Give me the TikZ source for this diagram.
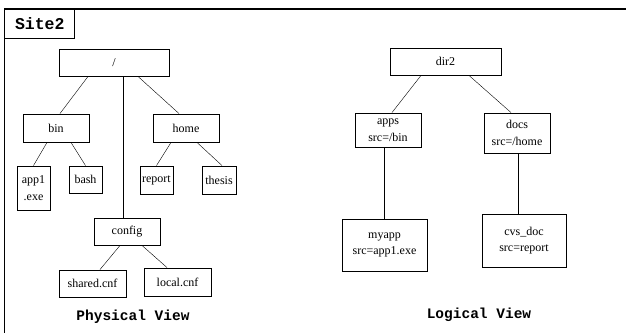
\documentclass[tikz,border=0pt]{standalone}
\usepackage{fontspec}
\setmainfont{Liberation Serif}
\setmonofont{Liberation Mono}
\usepackage{xcolor}
\usepackage{tikz}

\begin{document}
\begin{tikzpicture}[x=1pt,y=-1pt]
      % Definición de estilos
      \tikzstyle{dir}=[draw, line width=0.9pt, inner sep=0pt, align=center, font=\fontsize{12}{16.5}\selectfont]
      \tikzstyle{titulo}=[font=\fontsize{14.5}{16}\selectfont\ttfamily\bfseries]
      \useasboundingbox (0,0) rectangle (626,332);

      % Marco
      \draw[line width=1.3pt] (4.3,340) -- (4.3,9) -- (640,9);
      \node[draw, line width=1pt, anchor=north west, minimum width=70pt, minimum height=29pt,
            font=\fontsize{16.5}{18}\selectfont\ttfamily\bfseries] (sitio) at (4.3,9) {Site2};

      % Vista física
      \node[dir, minimum width=110pt, minimum height=27pt] (raiz) at (114,62.5) {/};
      \node[dir, minimum width=66pt, minimum height=28pt] (bin) at (56,128) {bin};
      \node[dir, minimum width=66pt, minimum height=28pt] (home) at (186,128) {home};
      \node[dir, minimum width=33pt, minimum height=44pt] (app) at (33.5,188) {app1\\.exe};
      \node[dir, minimum width=33pt, minimum height=27pt] (bash) at (85.5,179.5) {bash};
      \node[dir, minimum width=33pt, minimum height=28pt] (report) at (156.5,180) {report};
      \node[dir, minimum width=34pt, minimum height=28pt] (thesis) at (219,180) {thesis};
      \node[dir, minimum width=66pt, minimum height=27pt] (config) at (127,231.5) {config};
      \node[dir, minimum width=67pt, minimum height=27pt] (shared) at (92.5,283.5) {shared.cnf};
      \node[dir, minimum width=67pt, minimum height=28pt] (local) at (177.5,282) {local.cnf};

      % Vista lógica
      \node[dir, minimum width=111pt, minimum height=27pt] (dir2) at (445.5,61.5) {dir2};
      \node[dir, minimum width=66pt, minimum height=34pt] (apps) at (388,130) {apps\\src=/bin};
      \node[dir, minimum width=66pt, minimum height=40pt] (docs) at (517,133) {docs\\src=/home};
      \node[dir, minimum width=85pt, minimum height=52pt] (myapp) at (384.5,245) {myapp\\src=app1.exe};
      \node[dir, minimum width=84pt, minimum height=53pt] (cvsdoc) at (524,240.5) {cvs\_doc\\src=report};

      % Conexiones
      \draw ([xshift=-26pt]raiz.south) -- ([xshift=4pt]bin.north);
      \draw ([xshift=24pt]raiz.south) -- ([xshift=-7pt]home.north);
      \draw ([xshift=9pt]raiz.south) -- ([xshift=-4pt]config.north);
      \draw ([xshift=-9pt]bin.south) -- (app.north);
      \draw ([xshift=15pt]bin.south) -- (bash.north);
      \draw ([xshift=-15pt]home.south) -- (report.north);
      \draw ([xshift=11pt]home.south) -- ([xshift=3pt]thesis.north);
      \draw ([xshift=-7pt]config.south) -- ([xshift=7.5pt]shared.north);
      \draw ([xshift=15pt]config.south) -- ([xshift=-10.5pt]local.north);
      \draw ([xshift=-24.5pt]dir2.south) -- ([xshift=4pt]apps.north);
      \draw ([xshift=23.5pt]dir2.south) -- ([xshift=-6pt]docs.north);
      \draw (myapp.north |- apps.south) -- (myapp.north);
      \draw ([xshift=1pt]docs.south) -- ([xshift=-6pt]cvsdoc.north);

      % Etiquetas
      \node[titulo] (fisica) at (133,317) {Physical View};
      \node[titulo] (logica) at (479,315) {Logical View};
\end{tikzpicture}
\end{document}
